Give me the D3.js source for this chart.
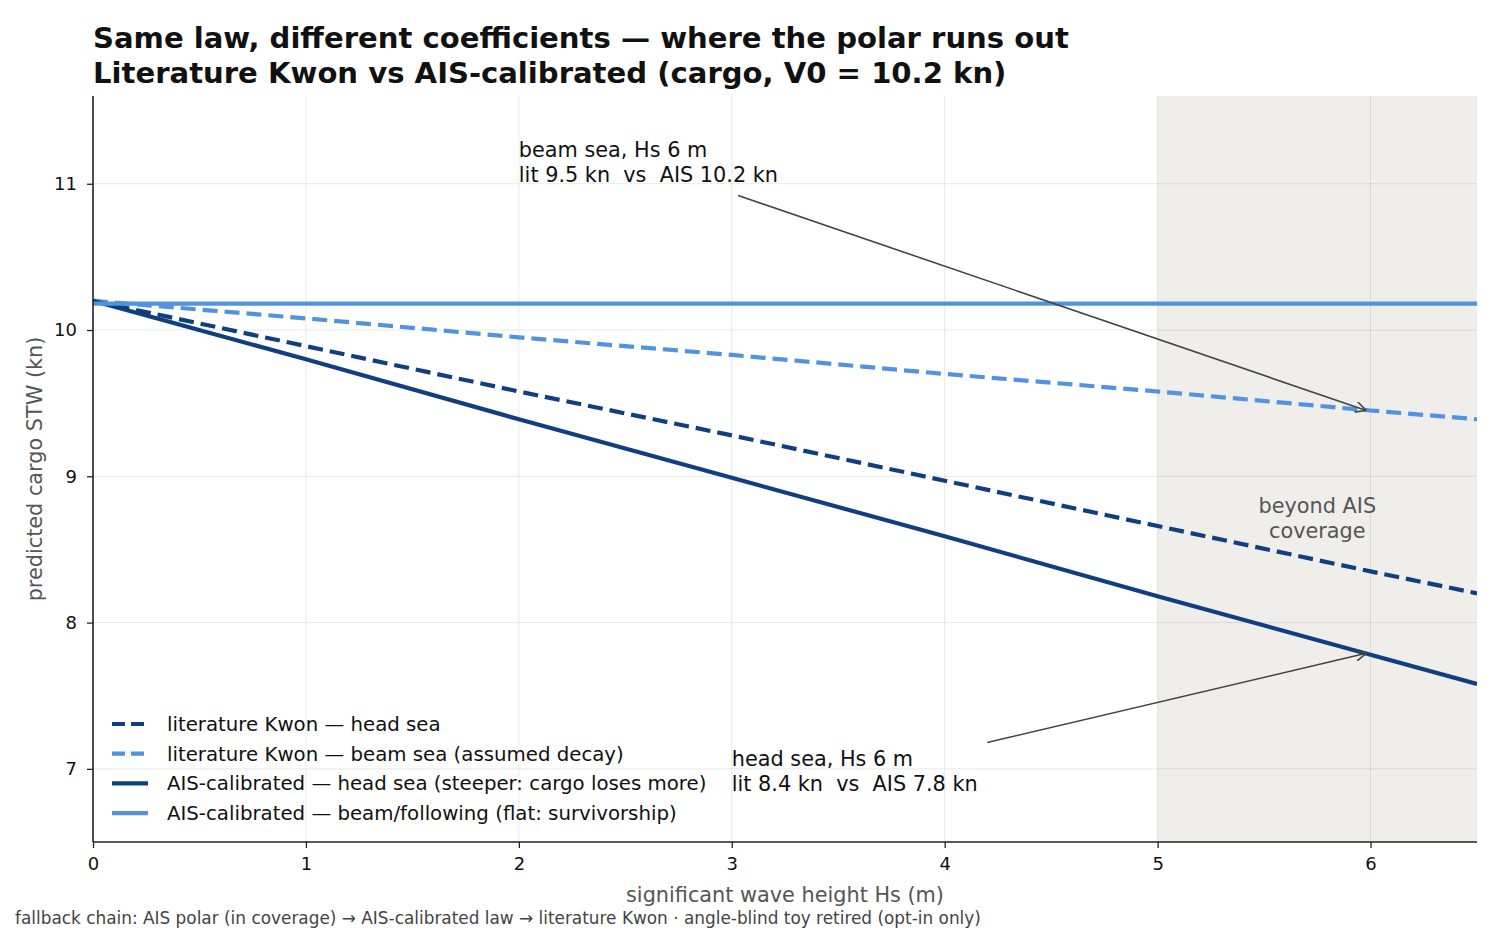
<!DOCTYPE html>
<html>
<head>
<meta charset="utf-8">
<script src="https://cdn.jsdelivr.net/npm/d3@7"></script>
<style>
  body { margin: 0; background: #fff; }
  text { font-family: "DejaVu Sans", sans-serif; }
</style>
</head>
<body>
<svg id="chart" width="1500" height="930"></svg>
<script>
const hs = [0, 1, 2, 3, 4, 5, 6, 6.5];
const litHead = [10.2, 9.89, 9.58, 9.28, 8.97, 8.66, 8.35, 8.2];
const litBeam = [10.2, 10.08, 9.95, 9.83, 9.70, 9.58, 9.45, 9.39];
const aisHead = [10.2, 9.8, 9.39, 8.99, 8.59, 8.18, 7.78, 7.58];
const aisBeam = [10.18, 10.18, 10.18, 10.18, 10.18, 10.18, 10.18, 10.18];
const xTicks = [0, 1, 2, 3, 4, 5, 6];
const yTicks = [7, 8, 9, 10, 11];
const coverageEdge = 5;

const dark = '#0f3f80', light = '#5193e1';

const series = [
    { name: 'literature Kwon — head sea', values: litHead, color: dark, dash: '15,7' },
    { name: 'literature Kwon — beam sea (assumed decay)', values: litBeam, color: light, dash: '15,7' },
    { name: 'AIS-calibrated — head sea (steeper: cargo loses more)', values: aisHead, color: dark, dash: null },
    { name: 'AIS-calibrated — beam/following (flat: survivorship)', values: aisBeam, color: light, dash: null },
];

const svg = d3.select('#chart');
const m = { left: 93, right: 1477, top: 96, bottom: 842 };

const x = d3.scaleLinear().domain([0, 6.5]).range([m.left, m.right]);
const y = d3.scaleLinear().domain([6.5, 11.6]).range([m.bottom, m.top]);

// 覆盖范围外的阴影
svg.append('rect')
    .attr('x', x(coverageEdge))
    .attr('y', m.top)
    .attr('width', x(6.5) - x(coverageEdge))
    .attr('height', m.bottom - m.top)
    .attr('fill', '#efeeeb');

// 网格
const grid = svg.append('g').attr('stroke', '#000').attr('stroke-opacity', 0.09).attr('stroke-width', 1);
grid.selectAll('.gx').data(xTicks).join('line')
    .attr('x1', d => x(d)).attr('x2', d => x(d))
    .attr('y1', m.top).attr('y2', m.bottom);
grid.selectAll('.gy').data(yTicks).join('line')
    .attr('x1', m.left).attr('x2', m.right)
    .attr('y1', d => y(d)).attr('y2', d => y(d));

svg.append('text')
    .attr('x', x(5.75)).attr('y', y(8.75))
    .attr('text-anchor', 'middle')
    .attr('font-size', 20.8).attr('fill', '#555')
    .text('beyond AIS');
svg.append('text')
    .attr('x', x(5.75)).attr('y', y(8.58))
    .attr('text-anchor', 'middle')
    .attr('font-size', 20.8).attr('fill', '#555')
    .text('coverage');

// 曲线
const line = d3.line()
    .x((d, i) => x(hs[i]))
    .y(d => y(d));

svg.append('defs').append('clipPath').attr('id', 'clip')
    .append('rect')
    .attr('x', m.left).attr('y', m.top)
    .attr('width', m.right - m.left).attr('height', m.bottom - m.top);

svg.append('g').attr('clip-path', 'url(#clip)')
    .selectAll('path')
    .data(series)
    .join('path')
    .attr('d', d => line(d.values))
    .attr('fill', 'none')
    .attr('stroke', d => d.color)
    .attr('stroke-width', 4.2)
    .attr('stroke-dasharray', d => d.dash);

// 坐标轴
const xAxis = svg.append('g')
    .attr('transform', `translate(0,${m.bottom})`)
    .call(d3.axisBottom(x).tickValues(xTicks).tickFormat(d3.format('d')).tickSizeOuter(0).tickSize(6).tickPadding(9));
const yAxis = svg.append('g')
    .attr('transform', `translate(${m.left},0)`)
    .call(d3.axisLeft(y).tickValues(yTicks).tickFormat(d3.format('d')).tickSizeOuter(0).tickSize(6).tickPadding(10));
[xAxis, yAxis].forEach(a => {
    a.select('.domain').attr('stroke', '#222').attr('stroke-width', 1.6);
    a.selectAll('.tick line').attr('stroke', '#222').attr('stroke-width', 1.3);
    a.selectAll('.tick text').attr('font-size', 18).attr('fill', '#111')
        .attr('font-family', '"DejaVu Sans", sans-serif');
});
// axis domain should span whole plot
xAxis.select('.domain').attr('d', `M${m.left},0H${m.right}`);
yAxis.select('.domain').attr('d', `M0,${m.bottom}V${m.top}`);

svg.append('text')
    .attr('x', (m.left + m.right) / 2).attr('y', 902)
    .attr('text-anchor', 'middle')
    .attr('font-size', 20.8).attr('fill', '#555')
    .text('significant wave height Hs (m)');
svg.append('text')
    .attr('transform', `translate(42,${(m.top + m.bottom) / 2}) rotate(-90)`)
    .attr('text-anchor', 'middle')
    .attr('font-size', 20.8).attr('fill', '#555')
    .text('predicted cargo STW (kn)');

// 注释
const marker = svg.select('defs').append('marker')
    .attr('id', 'arrow')
    .attr('viewBox', '0 0 10 10')
    .attr('refX', 10).attr('refY', 5)
    .attr('markerWidth', 11).attr('markerHeight', 11)
    .attr('markerUnits', 'userSpaceOnUse')
    .attr('orient', 'auto');
marker.append('path')
    .attr('d', 'M0,0L10,5L0,10')
    .attr('fill', 'none').attr('stroke', '#444').attr('stroke-width', 1.4);

const notes = [
    { lines: ['beam sea, Hs 6 m', 'lit 9.5 kn  vs  AIS 10.2 kn'], tx: 2.0, ty: 11.18, from: [3.03, 10.92], to: [5.98, 9.45] },
    { lines: ['head sea, Hs 6 m', 'lit 8.4 kn  vs  AIS 7.8 kn'], tx: 3.0, ty: 7.02, from: [4.2, 7.18], to: [5.98, 7.79] },
];
notes.forEach(n => {
    svg.append('line')
        .attr('x1', x(n.from[0])).attr('y1', y(n.from[1]))
        .attr('x2', x(n.to[0])).attr('y2', y(n.to[1]))
        .attr('stroke', '#444').attr('stroke-width', 1.6)
        .attr('marker-end', 'url(#arrow)');
    const t = svg.append('text')
        .attr('x', x(n.tx)).attr('y', y(n.ty))
        .attr('font-size', 20.8).attr('fill', '#111');
    n.lines.forEach((l, i) => {
        t.append('tspan').attr('x', x(n.tx)).attr('dy', i === 0 ? 0 : 25).attr('xml:space', 'preserve').text(l);
    });
});

// 图例
const legend = svg.append('g').attr('transform', 'translate(112,724)');
const rows = legend.selectAll('g').data(series).join('g')
    .attr('transform', (d, i) => `translate(0,${i * 29.7})`);
rows.append('line')
    .attr('x1', 0).attr('x2', 36)
    .attr('stroke', d => d.color)
    .attr('stroke-width', 4.2)
    .attr('stroke-dasharray', d => d.dash ? '13,6' : null);
rows.append('text')
    .attr('x', 55).attr('y', 7)
    .attr('font-size', 19.75).attr('fill', '#111')
    .text(d => d.name);

// 标题
svg.append('text')
    .attr('x', 93).attr('y', 48)
    .attr('font-size', 29.1).attr('font-weight', 'bold').attr('fill', '#111')
    .text('Same law, different coefficients — where the polar runs out');
svg.append('text')
    .attr('x', 93).attr('y', 83)
    .attr('font-size', 29.1).attr('font-weight', 'bold').attr('fill', '#111')
    .text('Literature Kwon vs AIS-calibrated (cargo, V0 = 10.2 kn)');

svg.append('text')
    .attr('x', 15).attr('y', 924)
    .attr('font-size', 16.9).attr('fill', '#444')
    .text('fallback chain: AIS polar (in coverage) → AIS-calibrated law → literature Kwon · angle-blind toy retired (opt-in only)');
</script>
</body>
</html>
